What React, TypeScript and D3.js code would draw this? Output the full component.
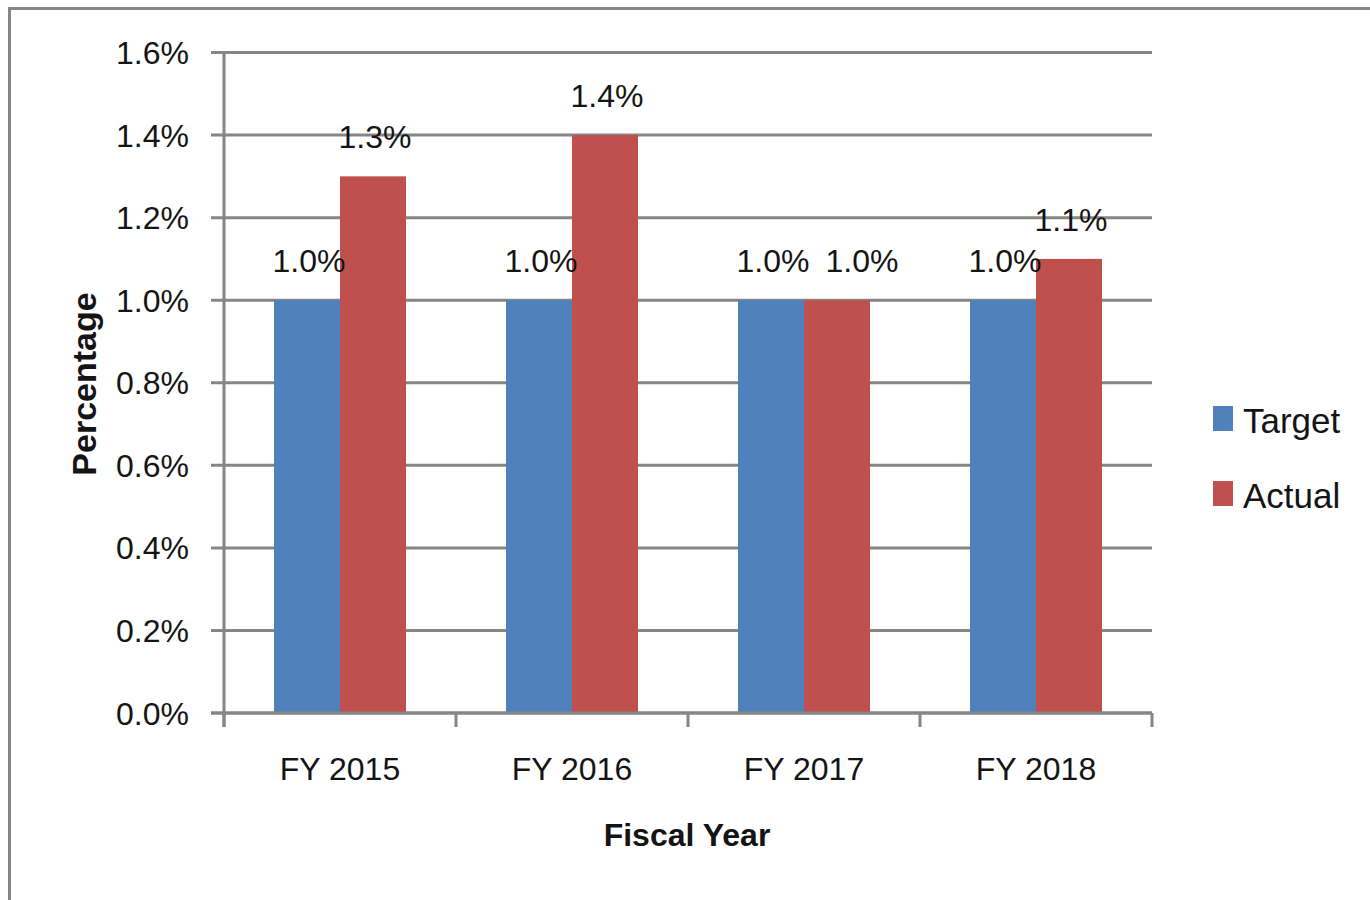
import { useEffect } from "react";
import * as d3 from "d3";

const categories = ["FY 2015", "FY 2016", "FY 2017", "FY 2018"];
const seriesNames = ["Target", "Actual"];
const target = [1.0, 1.0, 1.0, 1.0];
const actual = [1.3, 1.4, 1.0, 1.1];
const yTicks = [0, 0.2, 0.4, 0.6, 0.8, 1.0, 1.2, 1.4, 1.6];

const colors: { [key: string]: string } = {
    Target: "#4F81BD",
    Actual: "#C0504D"
};

const font = "'Liberation Sans', Arial, sans-serif";
const gridColor = "#868686";
const textColor = "#141414";
const labelSize = 32;
const labelW = labelSize * 2.28; // approx width of "1.0%"

export default function App() {
    useEffect(() => {
        document.body.style.margin = "0";
    }, []);

    const width = 1370;
    const height = 900;
    const left = 224;
    const right = 1152;
    const top = 52.5;
    const bottom = 713;

    const x = d3.scaleBand().domain(categories).range([left, right]).padding(0);
    const xs = d3.scaleBand().domain(seriesNames).range([0, x.bandwidth()]).paddingInner(0).paddingOuter(0.7576);
    const y = d3.scaleLinear().domain([0, 1.6]).range([bottom, top]);
    const fmt = (v: number) => d3.format(".1f")(v) + "%";

    const rows = categories.map((c, i) => ({ cat: c, vals: [target[i], actual[i]] }));
    const xTickPos = [...categories.map(c => x(c) || 0), right];

    // label positions, nudge the second one right if it would collide with the first
    const labelPos = (vals: number[]) => {
        const pos = seriesNames.map((s, j) => ({
            cx: (xs(s) || 0) + xs.bandwidth() / 2 + 2,
            y: y(vals[j]) - 28
        }));
        if (Math.abs(pos[0].y - pos[1].y) < labelSize && pos[1].cx - pos[0].cx < labelW + 16) {
            pos[1].cx = pos[0].cx + labelW + 16;
        }
        return pos;
    };

    return (
        <svg width={width} height={height} style={{ display: "block", background: "#fff" }} fontFamily={font}>
            {/* outer frame, runs off the right and bottom edges */}
            <rect x={9.5} y={8.5} width={width + 20} height={height + 20} fill="none" stroke={gridColor} strokeWidth={3} />

            {/* gridlines + y ticks */}
            {yTicks.map(t => (
                <g key={t}>
                    <line x1={211} x2={right} y1={y(t)} y2={y(t)} stroke={gridColor} strokeWidth={3} />
                    <text x={189} y={y(t)} dy="0.36em" textAnchor="end" fontSize={32} fill={textColor}>
                        {fmt(t)}
                    </text>
                </g>
            ))}

            {/* bars */}
            {rows.map(r => {
                const lp = labelPos(r.vals);
                return (
                    <g key={r.cat} transform={`translate(${x(r.cat)},0)`}>
                        {seriesNames.map((s, j) => (
                            <rect key={s} x={xs(s)} y={y(r.vals[j])} width={xs.bandwidth()}
                                height={y(0) - y(r.vals[j])} fill={colors[s]} />
                        ))}
                        {seriesNames.map((s, j) => (
                            <text key={s + "l"} x={lp[j].cx} y={lp[j].y}
                                textAnchor="middle" fontSize={labelSize} fill={textColor}>
                                {fmt(r.vals[j])}
                            </text>
                        ))}
                    </g>
                );
            })}

            {/* axes */}
            <line x1={left} x2={left} y1={top} y2={727} stroke={gridColor} strokeWidth={3} />
            <line x1={211} x2={right} y1={bottom} y2={bottom} stroke={gridColor} strokeWidth={3} />
            {xTickPos.map((p, i) => (
                <line key={i} x1={p} x2={p} y1={bottom} y2={727} stroke={gridColor} strokeWidth={3} />
            ))}
            {categories.map(c => (
                <text key={c} x={(x(c) || 0) + x.bandwidth() / 2} y={780} textAnchor="middle" fontSize={32} fill={textColor}>
                    {c}
                </text>
            ))}

            {/* axis titles */}
            <text x={(left + right) / 2 - 1} y={846} textAnchor="middle" fontSize={32} fontWeight="bold" fill={textColor}>
                Fiscal Year
            </text>
            <text transform={`translate(96,384) rotate(-90)`} textAnchor="middle" fontSize={34} fontWeight="bold" fill={textColor}>
                Percentage
            </text>

            {/* legend */}
            {seriesNames.map((s, i) => (
                <g key={s} transform={`translate(1213,${406 + i * 75})`}>
                    <rect width={20} height={25} fill={colors[s]} />
                    <text x={30} y={27} fontSize={35} fill={textColor}>{s}</text>
                </g>
            ))}
        </svg>
    );
}
